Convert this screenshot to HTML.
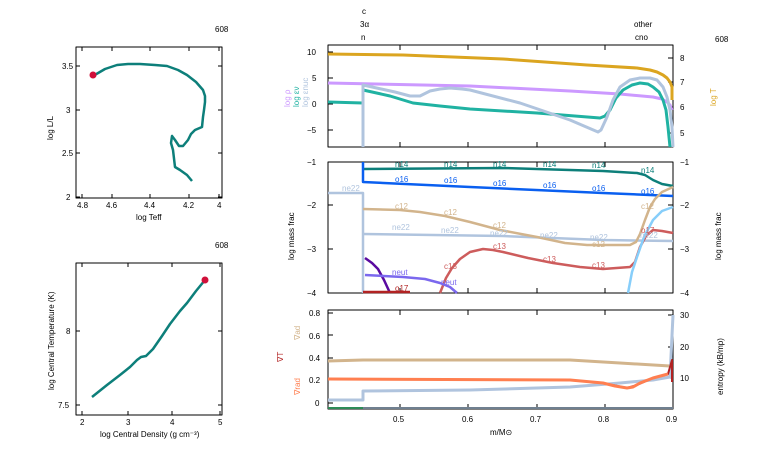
<!DOCTYPE html>
<html><head><meta charset="utf-8"><style>
body{margin:0;background:#fff}
svg{display:block;font-family:"Liberation Sans",sans-serif}
text{font-size:8px}
</style></head><body>
<svg width="766" height="460" viewBox="0 0 766 460" xmlns="http://www.w3.org/2000/svg">
<rect width="766" height="460" fill="#fff"/>
<g fill="none" stroke-linejoin="round" stroke-linecap="butt">
<rect x="76" y="47" width="146" height="151" stroke="#000" stroke-width="1"/>
<g stroke="#000" stroke-width="1">
<path d="M76 66h4M76 110h4M76 153h4M76 197h4M222 66h-4M222 110h-4M222 153h-4M222 197h-4"/>
<path d="M82 198v-4M112 198v-4M150 198v-4M189 198v-4M219 198v-4M82 47v4M112 47v4M150 47v4M189 47v4M219 47v4"/>
</g>
<polyline stroke="#0d7f7a" stroke-width="2.5" points="93,76 105,69 117,65 128,64 140,64 155,65 167,66 178,70 187,75 196,82 203,90 205,96 205,102 204,110 203,117 202,127 195,130 191,134 188,140 183,146 179,146 175,140 172,136 171,143 173,150 175,167 180,170 187,175 192,181"/>
<circle cx="93" cy="75" r="3.5" fill="#d0103a" stroke="none"/>
<rect x="76" y="263" width="146" height="152" stroke="#000" stroke-width="1"/>
<g stroke="#000" stroke-width="1">
<path d="M76 331h4M76 405h4M222 331h-4M222 405h-4M82 415v-4M128 415v-4M172 415v-4M220 415v-4M82 263v4M128 263v4M172 263v4M220 263v4"/>
</g>
<polyline stroke="#0d7f7a" stroke-width="2.5" points="92,397 107,385 120,375 130,367 137,360 141,357 146,356 153,349 162,336 170,324 180,311 187,303 196,291 205,280"/>
<circle cx="205" cy="280" r="3.5" fill="#d0103a" stroke="none"/>

<rect x="328" y="45" width="345" height="102" stroke="#000"/>
<rect x="328" y="162" width="345" height="131" stroke="#000"/>
<rect x="328" y="310" width="345" height="99" stroke="#000"/>
<g stroke="#000" stroke-width="1">
<path d="M328 52h5M328 78h5M328 104h5M328 130h5M673 58h-5M673 82h-5M673 107h-5M673 133h-5"/>
<path d="M328 162h5M328 205h5M328 249h5M328 293h5M673 162h-5M673 205h-5M673 249h-5M673 293h-5"/>
<path d="M328 313h5M328 335h5M328 358h5M328 380h5M328 403h5M673 315h-5M673 347h-5M673 378h-5"/>
<path d="M400 409v-5M468 409v-5M537 409v-5M605 409v-5M400 310v5M468 310v5M537 310v5M605 310v5M400 293v-5M468 293v-5M537 293v-5M605 293v-5M400 162v5M468 162v5M537 162v5M605 162v5M400 147v-5M468 147v-5M537 147v-5M605 147v-5M400 45v5M468 45v5M537 45v5M605 45v5"/>
</g>
<polyline stroke="#dba520" stroke-width="3" points="328,54 403,55 503,59 587,65 637,68 650,70 657,72 663,75 667,78 670,82 672,87 672,100"/>
<polyline stroke="#cc99ff" stroke-width="3" points="328,83 470,86 570,91 620,94 653,97 662,99 667,102 670,105 672,110"/>
<polyline stroke="#20b2a2" stroke-width="3" points="328,102 363,103 363,90 390,96 413,103 440,106 470,109 537,113 600,118 605,116 610,110 616,98 623,90 632,85 640,83 648,84 653,87 659,92 663,100 666,110 668,127 670,147"/>
<polyline stroke="#b0c4de" stroke-width="3" points="363,147 363,85 395,92 410,96 420,96 430,91 440,89 450,88 462,89 470,90 520,103 570,120 598,132 601,130 607,117 613,100 620,87 630,80 640,78 650,78 657,80 663,87 667,97 670,110 672,127 673,147"/>
<polyline stroke="#0d7f7a" stroke-width="2.5" points="363,169 503,168 603,171 637,173 645,175 653,180 662,184 673,186"/>
<polyline stroke="#b0c4de" stroke-width="2.5" points="328,193 363,193 363,293"/>
<polyline stroke="#b0c4de" stroke-width="2.5" points="363,234 503,236 603,240 673,241"/>
<polyline stroke="#0a5ff0" stroke-width="2.5" points="363,162 363,182 470,187 603,193 673,196"/>
<polyline stroke="#d2b48c" stroke-width="2.5" points="363,209 400,210 420,212 445,216 470,222 500,230 537,237 565,243 587,245 630,245 636,242 640,234 645,220 650,207 655,199 662,192 673,187"/>
<polyline stroke="#cd5c5c" stroke-width="2.5" points="440,293 446,278 452,268 460,259 470,252 483,249 493,250 503,252 528,258 553,263 580,267 603,269 630,267 635,262 640,247 646,236 653,230 662,231 673,233"/>
<polyline stroke="#87cefa" stroke-width="2.5" points="628,293 632,272 637,257 644,237 653,220 662,211 673,207"/>
<polyline stroke="#5a0aa0" stroke-width="2.5" points="365,258 372,263 378,269 384,280 390,293"/>
<polyline stroke="#7b68ee" stroke-width="2.5" points="365,275 403,277 425,279 440,283 450,287 457,293"/>
<polyline stroke="#b22222" stroke-width="2.5" points="363,292 410,292"/>
<polyline stroke="#d2b48c" stroke-width="3" points="328,361 363,360 570,360 620,363 670,366"/>
<polyline stroke="#b0c4de" stroke-width="3" points="328,400 363,400 363,391 470,390 570,387 620,383 653,380 670,377 673,315"/>
<polyline stroke="#b22222" stroke-width="2" points="328,379 570,380 603,383 627,388 637,385 653,378 668,374 672,360 672,382"/>
<polyline stroke="#ff7f50" stroke-width="3" points="328,379 570,380 603,383 615,386 627,388 633,387 640,383 653,378 668,374"/>
<polyline stroke="#2e8b57" stroke-width="2" points="328,408 363,408"/>
<polyline stroke="#708090" stroke-width="2" points="363,408 673,408"/>
</g>
<g fill="#000">
<text x="215" y="32" font-size="7">608</text>
<text x="215" y="248" font-size="7">608</text>
<text x="715" y="42">608</text>
<text x="62" y="69">3.5</text><text x="66" y="113">3</text><text x="62" y="156">2.5</text><text x="66" y="200">2</text>
<text x="77" y="208" font-size="7">4.8</text><text x="106" y="208" font-size="7">4.6</text><text x="144" y="208" font-size="7">4.4</text><text x="183" y="208" font-size="7">4.2</text><text x="217" y="208" font-size="7">4</text>
<text x="136" y="220" font-size="7">log Teff</text>
<text transform="translate(53,140) rotate(-90)" font-size="7">log L/L</text>
<text x="66" y="334">8</text><text x="58" y="408">7.5</text>
<text x="80" y="425" font-size="7">2</text><text x="126" y="425" font-size="7">3</text><text x="170" y="425" font-size="7">4</text><text x="218" y="425" font-size="7">5</text>
<text x="100" y="437" font-size="7">log Central Density (g cm⁻³)</text>
<text transform="translate(54,390) rotate(-90)" font-size="7">log Central Temperature (K)</text>
<text x="307" y="55">10</text><text x="312" y="81">5</text><text x="312" y="107">0</text><text x="307" y="133">−5</text>
<text x="680" y="61">8</text><text x="680" y="85">7</text><text x="680" y="110">6</text><text x="680" y="136">5</text>
<text x="362" y="14">c</text><text x="360" y="27">3α</text><text x="361" y="40">n</text>
<text x="634" y="27">other</text><text x="635" y="40">cno</text>
<text transform="translate(290,107) rotate(-90)" fill="#cc99ff">log ρ</text>
<text transform="translate(299,107) rotate(-90)" fill="#20b2a2">log εν</text>
<text transform="translate(308,107) rotate(-90)" fill="#b0c4de">log εnuc</text>
<text transform="translate(716,106) rotate(-90)" fill="#dba520">log T</text>
<text x="307" y="165">−1</text><text x="307" y="208">−2</text><text x="307" y="252">−3</text><text x="307" y="296">−4</text>
<text x="680" y="165">−1</text><text x="680" y="208">−2</text><text x="680" y="252">−3</text><text x="680" y="296">−4</text>
<text transform="translate(294,260) rotate(-90)">log mass frac</text>
<text transform="translate(721,260) rotate(-90)">log mass frac</text>
<g fill="#0d7f7a"><text x="395" y="167">n14</text><text x="444" y="167">n14</text><text x="493" y="167">n14</text><text x="543" y="167">n14</text><text x="592" y="168">n14</text><text x="641" y="173">n14</text></g>
<g fill="#0a5ff0"><text x="395" y="182">o16</text><text x="444" y="183">o16</text><text x="493" y="186">o16</text><text x="543" y="188">o16</text><text x="592" y="191">o16</text><text x="641" y="194">o16</text></g>
<g fill="#d2b48c"><text x="395" y="209">c12</text><text x="444" y="215">c12</text><text x="493" y="228">c12</text><text x="641" y="209">c12</text><text x="592" y="247">c12</text></g>
<g fill="#b0c4de"><text x="342" y="191">ne22</text><text x="392" y="230">ne22</text><text x="441" y="233">ne22</text><text x="490" y="236">ne22</text><text x="540" y="238">ne22</text><text x="590" y="240">ne22</text><text x="640" y="238">ne22</text></g>
<g fill="#cd5c5c"><text x="444" y="269">c13</text><text x="493" y="249">c13</text><text x="543" y="262">c13</text><text x="592" y="268">c13</text><text x="641" y="233">o17</text></g>
<g fill="#7b68ee"><text x="392" y="275">neut</text><text x="441" y="285">neut</text></g>
<text x="395" y="291" fill="#b22222">o17</text>
<text x="309" y="316">0.8</text><text x="309" y="339">0.6</text><text x="309" y="361">0.4</text><text x="309" y="383">0.2</text><text x="315" y="406">0</text>
<text x="680" y="318">30</text><text x="680" y="350">20</text><text x="680" y="381">10</text>
<text x="393" y="422">0.5</text><text x="462" y="422">0.6</text><text x="530" y="422">0.7</text><text x="598" y="422">0.8</text><text x="666" y="422">0.9</text>
<text x="490" y="435">m/M⊙</text>
<text transform="translate(300,340) rotate(-90)" fill="#d2b48c">∇ad</text>
<text transform="translate(283,362) rotate(-90)" fill="#b22222">∇T</text>
<text transform="translate(300,395) rotate(-90)" fill="#ff7f50">∇rad</text>
<text transform="translate(723,395) rotate(-90)">entropy (kB/mp)</text>
</g>
</svg>
</body></html>
